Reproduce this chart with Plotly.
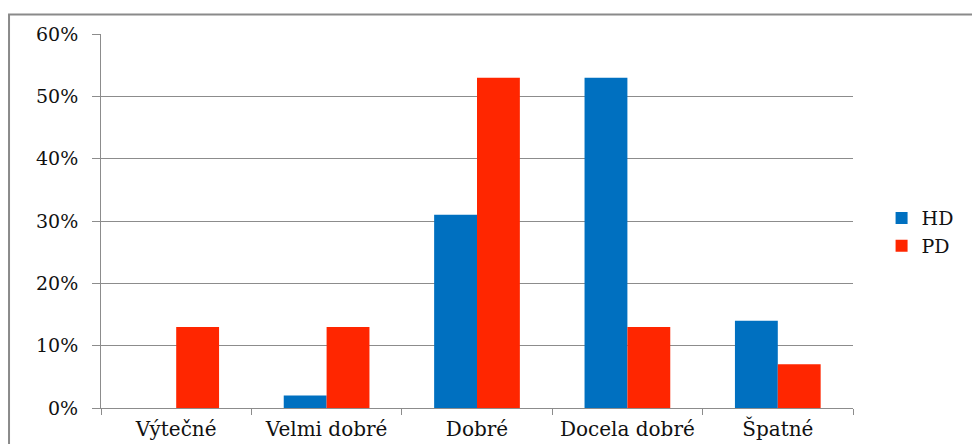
import plotly.graph_objects as go

categories = ["Výtečné", "Velmi dobré", "Dobré", "Docela dobré", "Špatné"]
hd_values = [0, 2, 31, 53, 14]
pd_values = [13, 13, 53, 13, 7]
y_ticks = [0, 10, 20, 30, 40, 50, 60]
y_tick_labels = [f"{v}%" for v in y_ticks]

font_family = "DejaVu Serif"
grid_color = "#8c8c8c"

fig = go.Figure()
fig.add_trace(go.Bar(name="HD", x=categories, y=hd_values, marker_color="#0070C0",
                     marker_line_width=0))
fig.add_trace(go.Bar(name="PD", x=categories, y=pd_values, marker_color="#FF2600",
                     marker_line_width=0))

fig.update_layout(
    width=972, height=444,
    margin=dict(l=101, r=119, t=34, b=36, autoexpand=False),
    paper_bgcolor="white", plot_bgcolor="white",
    barmode="group", bargap=0.43, bargroupgap=0,
    font=dict(family=font_family, size=19, color="#111111"),
    legend=dict(x=1.038, y=0.47, xanchor="left", yanchor="middle",
                font=dict(family=font_family, size=19), itemwidth=30, tracegroupgap=4,
                bgcolor="rgba(0,0,0,0)"),
    showlegend=True,
)

fig.update_xaxes(
    type="category", showgrid=False, showline=True, linecolor=grid_color, linewidth=1,
    ticks="outside", tickson="boundaries", ticklen=6, tickcolor=grid_color,
    tickfont=dict(family=font_family, size=20), ticklabelstandoff=3,
)
fig.update_yaxes(
    range=[0, 60], tickvals=y_ticks, ticktext=y_tick_labels,
    showgrid=True, gridcolor=grid_color, gridwidth=1,
    showline=True, linecolor=grid_color, linewidth=1,
    ticks="outside", ticklen=8, tickcolor=grid_color,
    zeroline=False, ticklabelstandoff=10, tickfont=dict(family=font_family, size=19),
)

# outer chart frame
fig.add_shape(type="rect", xref="paper", yref="paper",
              x0=-0.1223, x1=1.17, y0=-0.12, y1=1.052,
              line=dict(color="#8a8a8a", width=2), fillcolor="rgba(0,0,0,0)",
              layer="below")

fig.write_html("out.html")
